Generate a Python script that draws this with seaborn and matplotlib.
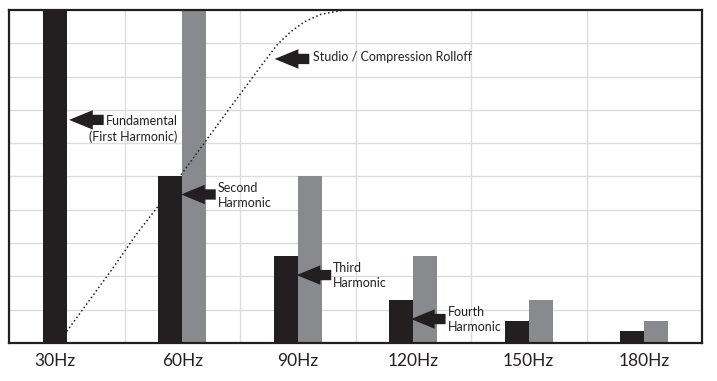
import numpy as np
import pandas as pd
import matplotlib
matplotlib.use("Agg")
import matplotlib.pyplot as plt
import matplotlib.transforms as mtransforms
from matplotlib.patches import ArrowStyle
import seaborn as sns

# ---------------- data ----------------
categories = ["30Hz", "60Hz", "90Hz", "120Hz", "150Hz", "180Hz"]
harmonic_levels = [10.0, 5.0, 2.6, 1.3, 0.65, 0.37]
rolloff_levels = [0.0, 10.0, 5.0, 2.6, 1.3, 0.65]
series_names = ["Harmonic", "Rolloff"]

# dotted rolloff curve (category units / level units)
curve_x = [0.0, 0.2, 0.4, 0.6, 0.8, 1.0, 1.2, 1.4, 1.55, 1.7, 1.82, 1.94, 2.06, 2.2, 2.4]
curve_y = [0.35, 1.3, 2.25, 3.25, 4.15, 5.1, 6.05, 7.0, 7.7, 8.4, 8.95, 9.35, 9.65, 9.87, 10.0]

# annotations: label, arrow tip (x, y), text anchor (x, y), alignment
ann_labels = ["Fundamental\n(First Harmonic)", "Second\nHarmonic", "Third\nHarmonic",
              "Fourth\nHarmonic", "Studio / Compression Rolloff"]
ann_tip_x = [0.02, 0.99, 1.99, 2.98, 1.80]
ann_tip_y = [6.70, 4.46, 2.04, 0.72, 8.53]
ann_text_x = [0.96, 1.31, 2.30, 3.30, 2.13]
ann_text_y = [6.84, 4.84, 2.44, 1.12, 8.77]
ann_ha = ["right", "left", "left", "left", "left"]

# ---------------- style ----------------
sns.set_theme(style="white")
FONT = ["Lato", "DejaVu Sans"]
plt.rcParams["font.family"] = FONT

DARK = "#231f20"
GRAY = "#898a8d"
GRID = "#dcdcdc"

df = pd.DataFrame({
    "freq": categories * 2,
    "level": harmonic_levels + rolloff_levels,
    "series": [series_names[0]] * len(categories) + [series_names[1]] * len(categories),
})

fig = plt.figure(figsize=(7.17, 3.81), dpi=100)
ax = fig.add_axes([9 / 717, 38 / 381, 693 / 717, 333 / 381])

sns.barplot(data=df, x="freq", y="level", hue="series", order=categories,
            hue_order=series_names, palette=[DARK, GRAY], width=0.413,
            saturation=1, legend=False, linewidth=0, ax=ax, zorder=2)

sns.lineplot(x=curve_x, y=curve_y, ax=ax, color=DARK, lw=1.1,
             linestyle=(0, (1, 1.7)), zorder=4)

ax.set_xlim(-0.5, 5.5)
ax.set_ylim(0, 10)
ax.set_xlabel("")
ax.set_ylabel("")

# grid
ax.set_yticks(np.arange(1, 10))
ax.set_yticklabels([])
ax.set_xticks(np.arange(0.5, 5.0, 1.0), minor=True)
ax.set_xticks(np.arange(len(categories)))
ax.set_xticklabels(categories, fontsize=12.5, color=DARK)
ax.grid(axis="y", which="major", color=GRID, lw=1.0, zorder=0)
ax.grid(axis="x", which="minor", color=GRID, lw=1.0, zorder=0)
ax.grid(axis="x", which="major", visible=False)
ax.set_axisbelow(True)
ax.tick_params(axis="both", which="both", length=0)
ax.tick_params(axis="x", pad=7)

# 30Hz label sits under its single bar
lbl0 = ax.get_xticklabels()[0]
lbl0.set_transform(lbl0.get_transform() +
                   mtransforms.ScaledTranslation(-12 / 100, 0, fig.dpi_scale_trans))

for side in ["top", "bottom", "left", "right"]:
    ax.spines[side].set_visible(True)
    ax.spines[side].set_color(DARK)
    ax.spines[side].set_linewidth(1.6)
    ax.spines[side].set_zorder(5)

# arrows + labels
arrow_style = ArrowStyle.Simple(head_length=1.22, head_width=1.0, tail_width=0.53)
for lab, tx, ty, lx, ly, ha in zip(ann_labels, ann_tip_x, ann_tip_y,
                                   ann_text_x, ann_text_y, ann_ha):
    ax.annotate("", xy=(tx, ty), xytext=(tx + 0.30, ty),
                arrowprops=dict(arrowstyle=arrow_style, fc=DARK, ec="none",
                                shrinkA=0, shrinkB=0, mutation_scale=14),
                zorder=6)
    ax.text(lx, ly, lab, ha=ha, va="top", multialignment=ha, fontsize=9,
            color=DARK, linespacing=1.3, zorder=6)

fig.savefig("out.png", dpi=100)
